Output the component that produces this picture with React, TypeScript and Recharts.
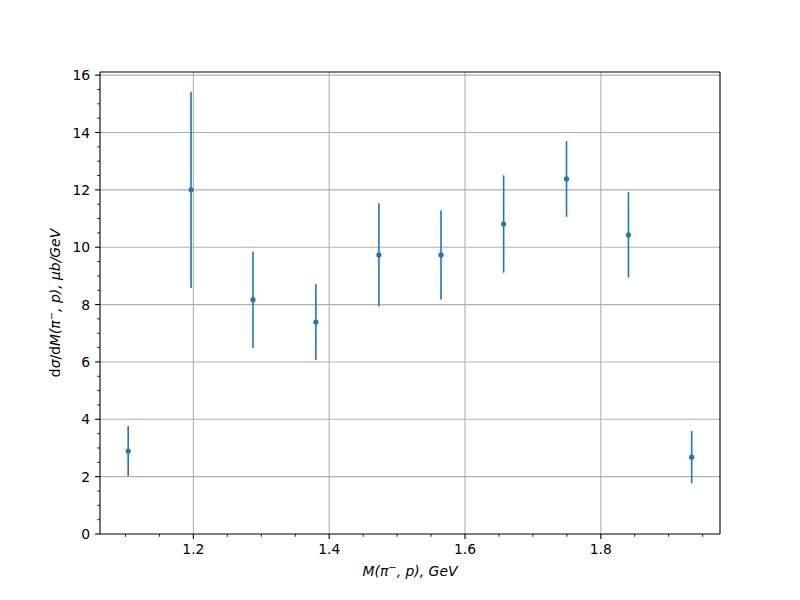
import React from 'react';
import { ComposedChart, Scatter, XAxis, YAxis, ErrorBar, ReferenceLine, Label } from 'recharts';

const massGeV = [1.104, 1.1966, 1.2878, 1.3804, 1.4732, 1.5647, 1.6569, 1.7495, 1.8407, 1.9338];
const crossSection = [2.89, 12.0, 8.17, 7.39, 9.73, 9.73, 10.81, 12.38, 10.43, 2.68];
const crossSectionErr = [0.88, 3.42, 1.68, 1.32, 1.8, 1.55, 1.7, 1.32, 1.49, 0.91];

const xMajorTicks = [1.2, 1.4, 1.6, 1.8];
const xMinorTicks = [1.1, 1.15, 1.25, 1.3, 1.35, 1.45, 1.5, 1.55, 1.65, 1.7, 1.75, 1.85, 1.9, 1.95];
const yMajorTicks = [0, 2, 4, 6, 8, 10, 12, 14, 16];
const yMinorTicks = [0.5, 1, 1.5, 2.5, 3, 3.5, 4.5, 5, 5.5, 6.5, 7, 7.5, 8.5, 9, 9.5, 10.5, 11, 11.5, 12.5, 13, 13.5, 14.5, 15, 15.5];
const xTickLabels = ['1.2', '1.4', '1.6', '1.8'];
const yTickLabels = ['0', '2', '4', '6', '8', '10', '12', '14', '16'];

const xDomain: [number, number] = [1.0625, 1.9755];
const yDomain: [number, number] = [0, 16.11];

const data = massGeV.map((x, i) => ({ x, y: crossSection[i], err: crossSectionErr[i] }));

const BLUE = '#1f77b4';
const GRID = '#b0b0b0';
const FONT = 'DejaVu Sans';
const FS = 13.9;

const isMajor = (list: number[], v: number) => list.findIndex((t) => Math.abs(t - v) < 1e-9);

const XTick = (props: any) => {
  const { x, y, payload } = props;
  const idx = isMajor(xMajorTicks, payload.value);
  const len = idx >= 0 ? 4.9 : 2.8;
  return (
    <g>
      <line x1={x} x2={x} y1={y} y2={y + len} stroke="#000" strokeWidth={idx >= 0 ? 1.1 : 0.85} />
      {idx >= 0 && (
        <text x={x} y={y + len + 4.9} dy="0.76em" textAnchor="middle" fontFamily={FONT} fontSize={FS} fill="#000">
          {xTickLabels[idx]}
        </text>
      )}
    </g>
  );
};

const YTick = (props: any) => {
  const { x, y, payload } = props;
  const idx = isMajor(yMajorTicks, payload.value);
  const len = idx >= 0 ? 4.9 : 2.8;
  return (
    <g>
      <line x1={x} x2={x - len} y1={y} y2={y} stroke="#000" strokeWidth={idx >= 0 ? 1.1 : 0.85} />
      {idx >= 0 && (
        <text x={x - len - 4.9} y={y} dy="0.36em" textAnchor="end" fontFamily={FONT} fontSize={FS} fill="#000">
          {yTickLabels[idx]}
        </text>
      )}
    </g>
  );
};

const XLabelContent = (props: any) => {
  const vb = props.viewBox || {};
  const cx = vb.x + vb.width / 2;
  const cy = vb.y + 42;
  return (
    <text x={cx} y={cy} textAnchor="middle" fontFamily={FONT} fontSize={FS} fontStyle="italic" fill="#000">
      M(π<tspan baselineShift="super" fontSize={10}>−</tspan>, p), GeV
    </text>
  );
};

const YLabelContent = (props: any) => {
  const vb = props.viewBox || {};
  const cx = 60;
  const cy = vb.y + vb.height / 2;
  return (
    <text
      x={cx}
      y={cy}
      textAnchor="middle"
      transform={`rotate(-90 ${cx} ${cy})`}
      fontFamily={FONT}
      fontSize={FS}
      fill="#000"
    >
      d<tspan fontStyle="italic">σ</tspan>/d<tspan fontStyle="italic">M(π</tspan>
      <tspan baselineShift="super" fontSize={10} fontStyle="italic">−</tspan>
      <tspan fontStyle="italic">, p), μb/GeV</tspan>
    </text>
  );
};

const Dot = (p: any) => <circle cx={p.cx} cy={p.cy} r={2.6} fill={BLUE} />;

export default function App() {
  return (
    <div style={{ position: 'absolute', left: 0, top: 0, width: 800, height: 600, background: '#fff' }}>
      <ComposedChart width={800} height={600} data={data} margin={{ top: 72, right: 80, left: 0, bottom: 0 }}>
        <XAxis
          type="number"
          dataKey="x"
          domain={xDomain}
          allowDataOverflow
          ticks={[...xMajorTicks, ...xMinorTicks]}
          interval={0}
          tickSize={0}
          tickMargin={0}
          tickLine={false}
          tick={<XTick />}
          axisLine={{ stroke: '#000', strokeWidth: 1.1 }}
          height={66}
        >
          <Label content={XLabelContent} />
        </XAxis>
        <YAxis
          type="number"
          dataKey="y"
          domain={yDomain}
          allowDataOverflow
          ticks={[...yMajorTicks, ...yMinorTicks]}
          interval={0}
          tickSize={0}
          tickMargin={0}
          tickLine={false}
          tick={<YTick />}
          axisLine={{ stroke: '#000', strokeWidth: 1.1 }}
          width={100}
        >
          <Label content={YLabelContent} />
        </YAxis>
        {xMajorTicks.map((v) => (
          <ReferenceLine key={'gx' + v} x={v} stroke={GRID} strokeWidth={1.1} />
        ))}
        {yMajorTicks.slice(1).map((v) => (
          <ReferenceLine key={'gy' + v} y={v} stroke={GRID} strokeWidth={1.1} />
        ))}
        <ReferenceLine x={xDomain[1]} stroke="#000" strokeWidth={1.1} />
        <ReferenceLine y={yDomain[1]} stroke="#000" strokeWidth={1.1} />
        <Scatter dataKey="y" fill={BLUE} shape={Dot} isAnimationActive={false}>
          <ErrorBar dataKey="err" direction="y" width={0} stroke={BLUE} strokeWidth={1.6} isAnimationActive={false} />
        </Scatter>
      </ComposedChart>
    </div>
  );
}
